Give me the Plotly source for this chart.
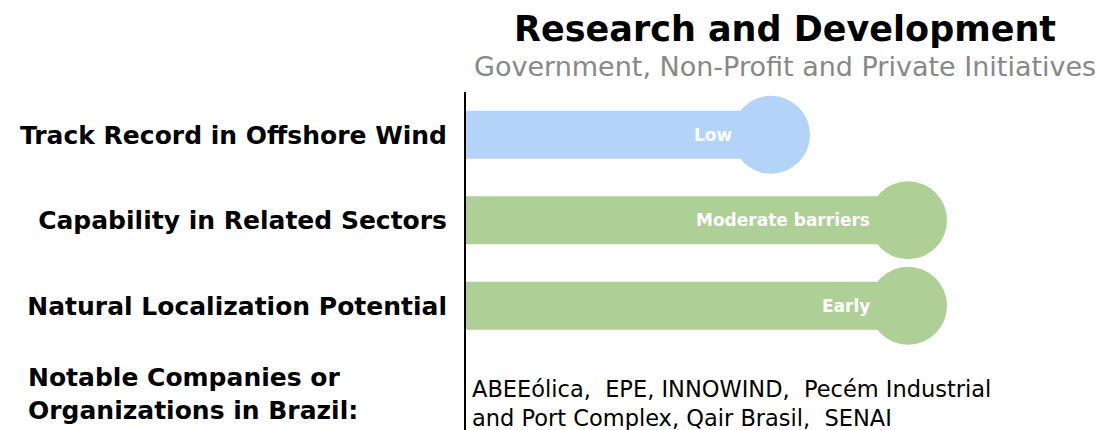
import plotly.graph_objects as go

categories = ["Track Record in Offshore Wind", "Capability in Related Sectors", "Natural Localization Potential"]
scores = [2.07, 3.0, 3.0]
labels = ["Low", "Moderate barriers", "Early"]
colors = ["#b4d3f9", "#aed096", "#aed096"]
title = "Research and Development"
subtitle = "Government, Non-Profit and Private Initiatives"
notable_label = "Notable Companies or<br>Organizations in Brazil:"
notable_text = "ABEEólica,  EPE, INNOWIND,  Pecém Industrial<br>and Port Complex, Qair Brasil,  SENAI"

rows = list(range(len(categories)))

fig = go.Figure()
fig.add_trace(go.Bar(
    x=scores, y=rows, orientation="h", width=0.56,
    marker=dict(color=colors, line=dict(width=0)),
    hoverinfo="skip", showlegend=False,
))
fig.add_trace(go.Scatter(
    x=scores, y=rows, mode="markers",
    marker=dict(size=78, color=colors, line=dict(width=0)),
    hoverinfo="skip", showlegend=False,
))

for s, r, lab in zip(scores, rows, labels):
    fig.add_annotation(x=s, y=r, text=f"<b>{lab}</b>", showarrow=False,
                       xanchor="right", yanchor="middle", xshift=-36,
                       font=dict(family="DejaVu Sans", size=17, color="white"))

fig.add_annotation(xref="paper", yref="paper", x=0.5, y=1 + (92 - 29) / 338,
                   text=f"<b>{title}</b>", showarrow=False, xanchor="center", yanchor="middle",
                   font=dict(family="DejaVu Sans", size=35, color="black"))
fig.add_annotation(xref="paper", yref="paper", x=0.5, y=1 + (92 - 67) / 338,
                   text=subtitle, showarrow=False, xanchor="center", yanchor="middle",
                   font=dict(family="DejaVu Sans", size=27, color="#888888"))

fig.add_annotation(xref="paper", yref="y", x=(26 - 466) / 638, y=3.03,
                   text=f"<b>{notable_label}</b>", showarrow=False, xanchor="left", yanchor="middle",
                   align="left", font=dict(family="DejaVu Sans", size=25, color="black"))
fig.add_annotation(xref="paper", yref="y", x=(470 - 466) / 638, y=3.14,
                   text=notable_text, showarrow=False, xanchor="left", yanchor="middle",
                   align="left", font=dict(family="DejaVu Sans", size=22.5, color="black"))

fig.update_layout(
    width=1104, height=430,
    margin=dict(l=466, r=0, t=92, b=0),
    paper_bgcolor="white", plot_bgcolor="white",
    xaxis=dict(range=[0, 4.33], visible=False, fixedrange=True),
    yaxis=dict(range=[3.453, -0.5], tickvals=rows,
               ticktext=[f"<b>{c}</b>" for c in categories],
               tickfont=dict(family="DejaVu Sans", size=25, color="black"),
               showline=True, linecolor="black", linewidth=2, showgrid=False,
               zeroline=False, ticks="", ticklabelstandoff=12, fixedrange=True),
    font=dict(family="DejaVu Sans"),
)

fig.write_html("out.html", config={"displayModeBar": False},
               post_script="document.body.style.margin='0';")
